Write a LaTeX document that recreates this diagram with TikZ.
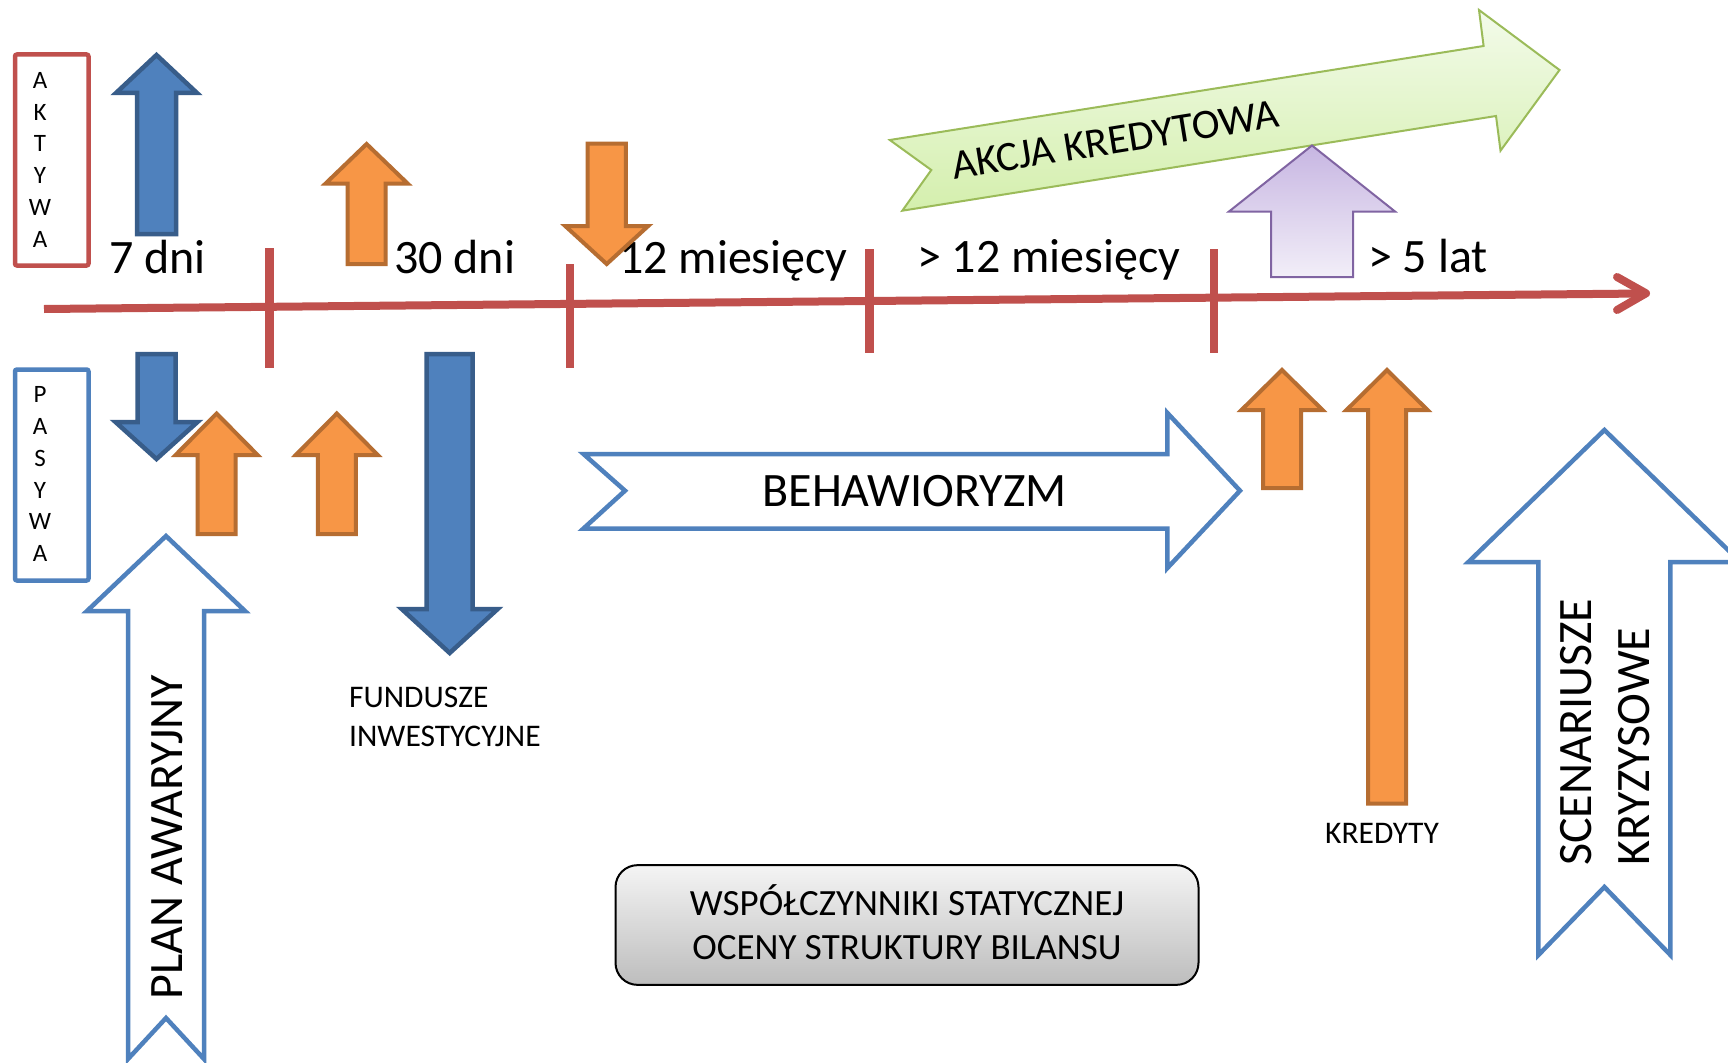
\documentclass[tikz,border=0pt]{standalone}
\usepackage{fontspec}
\setmainfont{Carlito}

\definecolor{axisred}{HTML}{C0504D}
\definecolor{bfill}{HTML}{4F81BD}
\definecolor{bline}{HTML}{385D8A}
\definecolor{ofill}{HTML}{F79646}
\definecolor{oline}{HTML}{B66D31}
\definecolor{lline}{HTML}{8064A2}
\definecolor{ltop}{HTML}{C7B6E2}
\definecolor{lbot}{HTML}{F2EEF8}
\definecolor{gline}{HTML}{9BBB59}
\definecolor{gtop}{HTML}{F3FBEA}
\definecolor{gbot}{HTML}{D4EFAD}
\definecolor{boxtop}{HTML}{F4F4F4}
\definecolor{boxbot}{HTML}{BDBDBD}

% vertical block arrow: style, x of axis, tip y, head base y, tail y, head half-width, shaft half-width
\newcommand{\vblock}[7]{%
  \path[#1] (#2,#3) -- ({#2+#6},#4) -- ({#2+#7},#4) -- ({#2+#7},#5)
    -- ({#2-#7},#5) -- ({#2-#7},#4) -- ({#2-#6},#4) -- cycle;}
% same, with a notched tail ending at y = #8
\newcommand{\vnotch}[8]{%
  \path[#1] (#2,#3) -- ({#2+#6},#4) -- ({#2+#7},#4) -- ({#2+#7},#5)
    -- (#2,#8) -- ({#2-#7},#5) -- ({#2-#7},#4) -- ({#2-#6},#4) -- cycle;}

\tikzset{
  blueblk/.style={fill=bfill, draw=bline, line width=4.5pt},
  orangeblk/.style={fill=ofill, draw=oline, line width=4pt},
  hollow/.style={fill=white, draw=bfill, line width=4.5pt},
  lilacblk/.style={top color=ltop, bottom color=lbot, draw=lline, line width=2pt},
  greenblk/.style={top color=gtop, bottom color=gbot, draw=gline, line width=2pt},
  axisline/.style={draw=axisred, line width=8pt},
  tickmark/.style={draw=axisred, line width=8.5pt},
  sidebox/.style={draw=#1, line width=4.5pt, rounded corners=2pt},
  letter/.style={inner sep=0pt, anchor=base, font=\fontsize{25}{30}\selectfont},
  big/.style={inner sep=0pt, font=\fontsize{48}{57}\selectfont},
  mid/.style={inner sep=0pt, font=\fontsize{42}{50}\selectfont},
  small/.style={inner sep=0pt, anchor=base west, font=\fontsize{31.5}{38}\selectfont},
}

\begin{document}
\begin{tikzpicture}[x=1pt,y=-1pt]
  \clip (0,0) rectangle (1728,1062);
  \fill[white] (0,0) rectangle (1728,1062);

  % side labels: assets and liabilities
  \draw[sidebox=axisred] (15,54.5) rectangle (88.5,265.5);
  \draw[sidebox=bfill] (15,369.5) rectangle (88.5,580.5);
  \foreach \ch [count=\i from 0] in {A,K,T,Y,W,A}
    \node[letter] (akt\i) at (40,{88.3+31.8*\i}) {\ch};
  \foreach \ch [count=\i from 0] in {P,A,S,Y,W,A}
    \node[letter] (pas\i) at (40,{402.7+31.8*\i}) {\ch};

  % time axis with interval marks
  \draw[axisline] (44,309) -- (1644,293.5);
  \draw[axisline, line cap=round, line join=round] (1617,277) -- (1646,293.3) -- (1617,310);
  \draw[tickmark] (269.6,248) -- (269.6,368);
  \draw[tickmark] (570,264) -- (570,368);
  \draw[tickmark] (869.6,249) -- (869.6,353);
  \draw[tickmark] (1214,249) -- (1214,353);

  % interval labels
  \node[big, anchor=base west] (d7)   at (109,273)    {7 dni};
  \node[big, anchor=base west] (d30)  at (394,273)    {30 dni};
  \node[big, anchor=base west] (m12)  at (619,273)    {12 miesięcy};
  \node[big, anchor=base west] (m12p) at (917,272)    {> 12 miesięcy};
  \node[big, anchor=base west] (y5)   at (1368,272)   {> 5 lat};

  % assets side arrows
  \vblock{blueblk}{156.5}{55}{93}{234}{40.5}{19.5}
  \vblock{orangeblk}{366.6}{144}{183.5}{264}{41}{19}
  \vblock{orangeblk}{606.7}{264}{226}{143.5}{41.5}{19.2}

  % credit campaign
  \path[greenblk] (889.8,140) -- (1483.6,46) -- (1479,10) -- (1559.5,70)
    -- (1500.5,150.7) -- (1496,116) -- (902.3,210.7) -- (931.3,170) -- cycle;
  \node[mid, anchor=base, rotate=9.2] (akcja) at (1117.3,153.3) {AKCJA KREDYTOWA};
  \vblock{lilacblk}{1312}{145.5}{211.5}{277}{83}{41}

  % liabilities side arrows
  \vblock{blueblk}{156.5}{459}{422}{354}{41}{19}
  \vblock{orangeblk}{216.6}{413.5}{455}{534}{41}{19}
  \vblock{orangeblk}{336.8}{413.5}{455}{534}{41}{19}
  \vblock{blueblk}{449.7}{653}{609}{354}{48}{23}
  \node[small] (fund1) at (349,707.7) {FUNDUSZE};
  \node[small] (fund2) at (349,746)   {INWESTYCYJNE};

  % contingency plan
  \vnotch{hollow}{166}{536}{611}{1059}{79}{38}{1018}
  \node[big, anchor=base, rotate=90] (plan) at (182,837.5) {PLAN AWARYJNY};

  % behavioural assumptions
  \path[hollow] (583.5,454) -- (1167.4,454) -- (1167.4,413) -- (1240,490.7)
    -- (1167.4,568) -- (1167.4,528.5) -- (583.5,528.5) -- (625,490.7) -- cycle;
  \node[big, anchor=base] (behaw) at (914.5,506.7) {BEHAWIORYZM};

  % loans
  \vblock{orangeblk}{1282}{370}{410}{488}{40.5}{19}
  \vblock{orangeblk}{1387}{370}{410}{803.5}{40.5}{19}
  \node[small] (kred) at (1325,843.5) {KREDYTY};

  % crisis scenarios
  \vnotch{hollow}{1604.4}{430}{562}{955}{136}{66}{887}
  \node[big, anchor=base west, rotate=90] (scen1) at (1591,866) {SCENARIUSZE};
  \node[big, anchor=base west, rotate=90] (scen2) at (1649,866) {KRYZYSOWE};

  % static ratios
  \node[draw=black, line width=2pt, rounded corners=22pt,
        top color=boxtop, bottom color=boxbot,
        minimum width=583pt, minimum height=119.7pt, inner sep=0pt] (wsp) at (907,925) {};
  \node[inner sep=0pt, align=center, font=\fontsize{37}{44}\selectfont] (wsplbl) at (907,922)
        {WSPÓŁCZYNNIKI STATYCZNEJ\\OCENY STRUKTURY BILANSU};
\end{tikzpicture}
\end{document}
